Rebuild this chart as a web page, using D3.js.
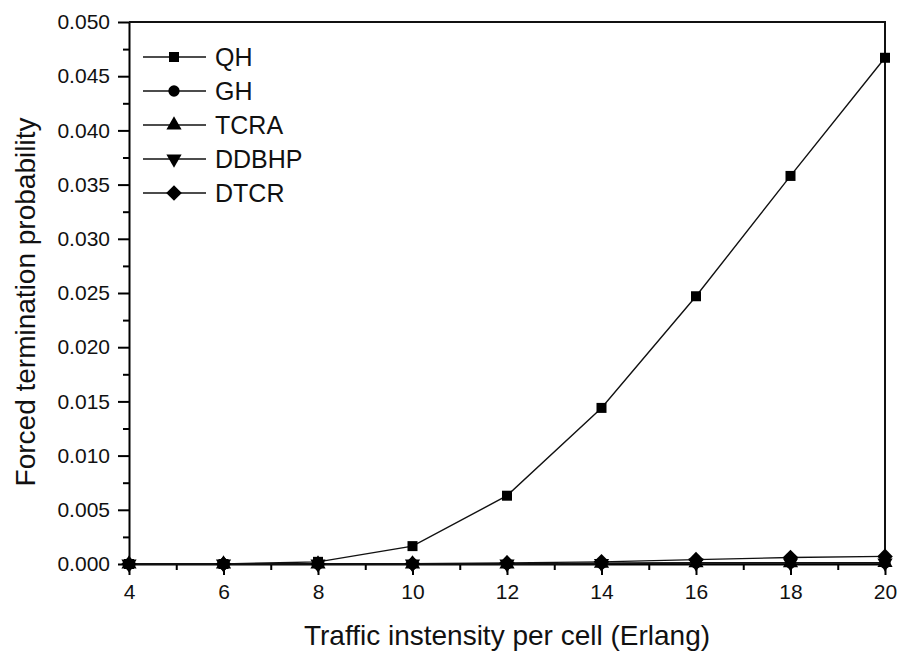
<!DOCTYPE html>
<html>
  <head>
    <meta charset="utf-8" />
    <title>Forced termination probability</title>
    <script src="https://d3js.org/d3.v7.min.js"></script>
    <style>
        body { margin: 0; background: #fff; }
        text { font-family: "Liberation Sans", Arial, sans-serif; fill: #111; }
    </style>
  </head>
  <body>
    <svg id="chart"></svg>
    <script>
        var traffic = [4, 6, 8, 10, 12, 14, 16, 18, 20];
        var seriesNames = ["QH", "GH", "TCRA", "DDBHP", "DTCR"];
        var qh    = [0, 0, 0.0002, 0.00165, 0.0063, 0.0144, 0.0247, 0.0358, 0.0467];
        var gh    = [0, 0, 0, 0, 0, 0.00005, 0.0001, 0.0001, 0.0001];
        var tcra  = [0, 0, 0, 0, 0, 0.00005, 0.0001, 0.0001, 0.00012];
        var ddbhp = [0, 0, 0, 0, 0, 0.00005, 0.0001, 0.0001, 0.0001];
        var dtcr  = [0, 0, 0, 0.00003, 0.0001, 0.0002, 0.0004, 0.0006, 0.0007];
        var xTicks = [4, 6, 8, 10, 12, 14, 16, 18, 20];
        var yTicks = [0, 0.005, 0.01, 0.015, 0.02, 0.025, 0.03, 0.035, 0.04, 0.045, 0.05];

        var values = [qh, gh, tcra, ddbhp, dtcr];
        var symbols = [d3.symbolSquare, d3.symbolCircle, d3.symbolTriangle, "down", "diamond"];

        var width = 902, height = 659;
        var margin = {top: 22, right: 17, bottom: 95, left: 129};
        var svg = d3.select("#chart").attr("width", width).attr("height", height);

        var x = d3.scaleLinear().domain([4, 20]).range([margin.left, width - margin.right]);
        var y = d3.scaleLinear().domain([0, 0.05]).range([height - margin.bottom, margin.top]);

        function markerPath(s, size) {
            if (s === "down") {
                return d3.symbol(d3.symbolTriangle, size)().toString();
            }
            if (s === "diamond") {
                var r = Math.sqrt(size) * 0.78;
                return "M0," + (-r) + "L" + r + ",0L0," + r + "L" + (-r) + ",0Z";
            }
            return d3.symbol(s, size)();
        }

        // minor ticks
        var xMinor = d3.range(5, 20, 2);
        var yMinor = d3.range(0.0025, 0.05, 0.005);

        svg.append("g")
            .attr("transform", "translate(0," + y(0) + ")")
            .call(d3.axisBottom(x).tickValues(xMinor).tickSize(6).tickFormat(""))
            .call(function(g) { g.select(".domain").remove(); g.selectAll("line").attr("stroke-width", 2); });
        svg.append("g")
            .attr("transform", "translate(" + x(4) + ",0)")
            .call(d3.axisLeft(y).tickValues(yMinor).tickSize(6).tickFormat(""))
            .call(function(g) { g.select(".domain").remove(); g.selectAll("line").attr("stroke-width", 2); });

        var xAxis = svg.append("g")
            .attr("transform", "translate(0," + y(0) + ")")
            .call(d3.axisBottom(x).tickValues(xTicks).tickSize(11).tickSizeOuter(0).tickPadding(6));
        xAxis.selectAll("text").attr("font-size", 21).attr("dy", "0.85em");

        var yAxis = svg.append("g")
            .attr("transform", "translate(" + x(4) + ",0)")
            .call(d3.axisLeft(y).tickValues(yTicks).tickSize(11).tickSizeOuter(0).tickPadding(8).tickFormat(d3.format(".3f")));
        yAxis.selectAll("text").attr("font-size", 21);

        [xAxis, yAxis].forEach(function(g) {
            g.select(".domain").attr("stroke-width", 2);
            g.selectAll("line").attr("stroke-width", 2);
        });

        // frame top & right
        svg.append("path")
            .attr("d", "M" + x(4) + "," + y(0.05) + "H" + x(20) + "V" + y(0))
            .attr("fill", "none").attr("stroke", "#111").attr("stroke-width", 2);

        var line = d3.line()
            .x(function(d, i) { return x(traffic[i]); })
            .y(function(d) { return y(d); });

        values.forEach(function(vals, k) {
            var g = svg.append("g");
            g.append("path").attr("d", line(vals))
                .attr("fill", "none").attr("stroke", "#111").attr("stroke-width", 1.4);
            g.selectAll("path.m").data(vals).enter().append("path")
                .attr("class", "m")
                .attr("d", markerPath(symbols[k], 100))
                .attr("transform", function(d, i) {
                    return "translate(" + x(traffic[i]) + "," + y(d) + ")" + (symbols[k] === "down" ? " rotate(180)" : "");
                })
                .attr("fill", "#000");
        });

        // legend
        var legend = svg.append("g").attr("transform", "translate(143,57)");
        seriesNames.forEach(function(name, k) {
            var row = legend.append("g").attr("transform", "translate(0," + (k * 34) + ")");
            row.append("line").attr("x1", 0).attr("x2", 63).attr("y1", 0).attr("y2", 0)
                .attr("stroke", "#111").attr("stroke-width", 1.4);
            row.append("path").attr("d", markerPath(symbols[k], 100))
                .attr("transform", "translate(31,0)" + (symbols[k] === "down" ? " rotate(180)" : ""))
                .attr("fill", "#000");
            row.append("text").attr("x", 72).attr("y", 0).attr("dy", "0.36em")
                .attr("font-size", 25).text(name);
        });

        // axis titles
        svg.append("text")
            .attr("x", (x(4) + x(20)) / 2).attr("y", 645)
            .attr("text-anchor", "middle").attr("font-size", 28)
            .text("Traffic instensity per cell (Erlang)");
        svg.append("text")
            .attr("transform", "translate(35,302) rotate(-90)")
            .attr("text-anchor", "middle").attr("font-size", 28)
            .text("Forced termination probability");
    </script>
  </body>
</html>
